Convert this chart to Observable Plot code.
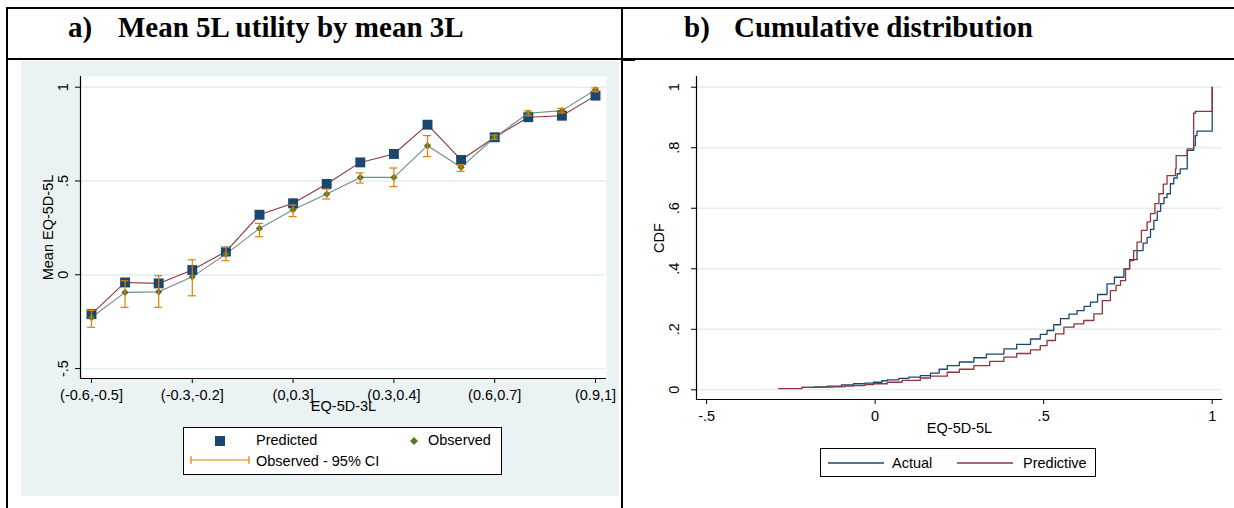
<!DOCTYPE html>
<html><head><meta charset="utf-8">
<script src="https://cdn.jsdelivr.net/npm/d3@7"></script>
<script src="https://cdn.jsdelivr.net/npm/@observablehq/plot@0.6"></script>
<style>
body{margin:0;width:1234px;height:508px;position:relative;overflow:hidden;background:#fff;font-family:"Liberation Sans",Arial,sans-serif;}
.line{position:absolute;background:#000;}
.title{position:absolute;font-family:"Liberation Serif","Times New Roman",serif;font-weight:bold;font-size:29px;line-height:29px;white-space:nowrap;color:#000;}
.chart{position:absolute;}
.legend{position:absolute;background:#fff;border:1px solid #000;box-sizing:border-box;}
.lt{position:absolute;font-size:14.5px;line-height:16px;white-space:nowrap;color:#000;}
.sw{position:absolute;}
</style></head><body>
<div class="line" style="left:6px;top:7px;width:1228px;height:2px"></div>
<div class="line" style="left:6px;top:7px;width:2px;height:501px"></div>
<div class="line" style="left:621px;top:7px;width:2px;height:501px"></div>
<div class="line" style="left:6px;top:58px;width:1228px;height:2px"></div>
<div class="line" style="left:623px;top:60px;width:12px;height:1px"></div>
<div class="title" style="left:68px;top:13px">a)</div>
<div class="title" style="left:118px;top:13px">Mean 5L utility by mean 3L</div>
<div class="title" style="left:684px;top:13px">b)</div>
<div class="title" style="left:734px;top:13px">Cumulative distribution</div>
<div id="a" class="chart" style="left:21px;top:61px"></div>
<div id="b" class="chart" style="left:630px;top:61px"></div>

<div class="legend" style="left:183px;top:427px;width:319px;height:48px">
  <svg class="sw" style="left:30px;top:7px" width="12" height="12"><rect x="1" y="1" width="10" height="10" fill="#1a476f"/></svg>
  <div class="lt" style="left:72px;top:4px">Predicted</div>
  <svg class="sw" style="left:225px;top:8px" width="10" height="10"><path d="M5,1L9,5L5,9L1,5Z" fill="#55752f"/></svg>
  <div class="lt" style="left:244px;top:4px">Observed</div>
  <svg class="sw" style="left:6px;top:27px" width="60" height="10"><path d="M1,5H59M1,1V9M59,1V9" stroke="#e37e00" stroke-width="1.2" fill="none"/></svg>
  <div class="lt" style="left:72px;top:25px">Observed - 95% CI</div>
</div>

<div class="legend" style="left:820px;top:448px;width:276px;height:29px">
  <svg class="sw" style="left:6px;top:9px" width="58" height="10"><path d="M1,5H57" stroke="#1a476f" stroke-width="1.3"/></svg>
  <div class="lt" style="left:71px;top:6px">Actual</div>
  <svg class="sw" style="left:135px;top:9px" width="58" height="10"><path d="M1,5H57" stroke="#90353b" stroke-width="1.3"/></svg>
  <div class="lt" style="left:202px;top:6px">Predictive</div>
</div>

<script>
// ---------- Panel a data ----------
const binIndex = [0,1,2,3,4,5,6,7,8,9,10,11,12,13,14,15];
const predicted = [-0.21,-0.041,-0.046,0.025,0.124,0.32,0.381,0.484,0.599,0.644,0.80,0.612,0.733,0.84,0.848,0.955];
const observed  = [-0.228,-0.094,-0.091,-0.011,0.11,0.247,0.347,0.43,0.519,0.519,0.688,0.573,0.733,0.861,0.875,0.986];
const ciLow     = [-0.28,-0.174,-0.174,-0.112,0.075,0.203,0.31,0.404,0.489,0.47,0.63,0.551,0.722,0.848,0.863,0.976];
const ciHigh    = [-0.19,-0.032,-0.005,0.08,0.146,0.274,0.372,0.457,0.543,0.569,0.742,0.587,0.744,0.874,0.887,0.996];
const xTickIdxA = [0,3,6,9,12,15];
const xTickLabelsA = ["(-0.6,-0.5]","(-0.3,-0.2]","(0,0.3]","(0.3,0.4]","(0.6,0.7]","(0.9,1]"];
const yTicksA = [-0.5,0,0.5,1];
const yTickLabelsA = ["-.5","0",".5","1"];

// ---------- Panel b data ----------
const actualX = [-0.217,-0.18,-0.142,-0.10,-0.064,-0.03,-0.005,0.02,0.036,0.07,0.10,0.134,0.164,0.19,0.214,0.25,0.293,0.33,0.382,0.42,0.461,0.49,0.51,0.53,0.55,0.575,0.599,0.62,0.639,0.66,0.688,0.71,0.738,0.755,0.777,0.795,0.807,0.817,0.827,0.837,0.847,0.857,0.866,0.876,0.886,0.896,0.905,0.926,0.945,0.95,0.955,1.0];
const actualY = [0.008,0.010,0.012,0.016,0.020,0.022,0.025,0.030,0.033,0.038,0.042,0.047,0.055,0.068,0.080,0.092,0.106,0.118,0.135,0.150,0.168,0.183,0.196,0.215,0.235,0.250,0.262,0.276,0.290,0.315,0.350,0.372,0.400,0.430,0.460,0.485,0.504,0.530,0.560,0.590,0.615,0.635,0.648,0.681,0.700,0.714,0.730,0.791,0.807,0.840,0.855,1.0];
const predX = [-0.286,-0.217,-0.17,-0.124,-0.09,-0.064,-0.03,-0.005,0.036,0.08,0.134,0.164,0.214,0.25,0.293,0.34,0.382,0.42,0.461,0.49,0.51,0.535,0.56,0.59,0.619,0.649,0.674,0.698,0.715,0.728,0.743,0.755,0.767,0.777,0.79,0.807,0.817,0.83,0.842,0.855,0.866,0.891,0.893,0.926,0.945,0.95,1.0];
const predY = [0.004,0.008,0.009,0.010,0.012,0.014,0.017,0.020,0.025,0.031,0.039,0.045,0.058,0.068,0.080,0.094,0.108,0.120,0.132,0.146,0.163,0.185,0.207,0.218,0.229,0.251,0.295,0.328,0.345,0.361,0.400,0.427,0.460,0.488,0.527,0.555,0.582,0.615,0.648,0.680,0.708,0.730,0.774,0.796,0.914,0.920,1.0];
const xTicksB = [-0.5,0,0.5,1];
const xTickLabelsB = ["-.5","0",".5","1"];
const yTicksB = [0,0.2,0.4,0.6,0.8,1];
const yTickLabelsB = ["0",".2",".4",".6",".8","1"];

const FONT = '"Liberation Sans", Arial, sans-serif';
const NAVY="#1a476f", MAROON="#90353b", FOREST="#55752f", ORANGE="#e37e00", TEAL="#6e8e84";
const GRID="#e4edf0", BG="#eaf2f3";

const rowsA = binIndex.map((i,k)=>({i, p:predicted[k], o:observed[k], lo:ciLow[k], hi:ciHigh[k]}));
const xDomA=[-0.327,15.327], yDomA=[-0.553,1.057];
const capHalf = 0.12;

const plotA = Plot.plot({
  width:598, height:435,
  marginLeft:59, marginRight:13, marginTop:15, marginBottom:118,
  style:{background:BG, fontFamily:FONT, fontSize:"14.5px", color:"#000", overflow:"visible"},
  x:{domain:xDomA}, y:{domain:yDomA},
  marks:[
    Plot.frame({fill:"white", stroke:null}),
    Plot.ruleY(yTicksA, {stroke:GRID, strokeWidth:1.5}),
    Plot.ruleX([xDomA[0]], {stroke:"#000", strokeWidth:1.2}),
    Plot.ruleY([yDomA[0]], {stroke:"#000", strokeWidth:1.2}),
    Plot.axisY({ticks:yTicksA, tickSize:5, tickFormat:()=>"", label:null, stroke:"#000"}),
    Plot.text(yTicksA, {y:d=>d, text:(d,k)=>yTickLabelsA[k], frameAnchor:"left", textAnchor:"middle", dx:-17, rotate:-90, fontSize:14.5}),
    Plot.text(["Mean EQ-5D-5L"], {frameAnchor:"left", textAnchor:"middle", dx:-32, rotate:-90, fontSize:14.5}),
    Plot.axisX({ticks:xTickIdxA, tickSize:5, tickPadding:6, tickFormat:(d)=>xTickLabelsA[xTickIdxA.indexOf(d)], label:null, stroke:"#000", fontSize:14.5}),
    Plot.text(["EQ-5D-3L"], {frameAnchor:"bottom", dy:32, fontSize:14.5}),
    Plot.line(rowsA, {x:"i", y:"p", stroke:MAROON, strokeWidth:1.1}),
    Plot.line(rowsA, {x:"i", y:"o", stroke:TEAL, strokeWidth:1.1}),
    Plot.dot(rowsA, {x:"i", y:"p", symbol:"square", r:5.6, fill:NAVY, stroke:null}),
    Plot.dot(rowsA, {x:"i", y:"o", symbol:"diamond2", r:3.3, fill:FOREST, stroke:null}),
    Plot.ruleX(rowsA, {x:"i", y1:"lo", y2:"hi", stroke:ORANGE, strokeWidth:1.2}),
    Plot.ruleY(rowsA, {y:"lo", x1:d=>d.i-capHalf, x2:d=>d.i+capHalf, stroke:ORANGE, strokeWidth:1.2}),
    Plot.ruleY(rowsA, {y:"hi", x1:d=>d.i-capHalf, x2:d=>d.i+capHalf, stroke:ORANGE, strokeWidth:1.2})
  ]
});
document.getElementById("a").appendChild(plotA);

const actual = actualX.map((x,k)=>({x, y:actualY[k]}));
const pred = predX.map((x,k)=>({x, y:predY[k]}));
const xDomB=[-0.530,1.0306], yDomB=[-0.032,1.0354];

const plotB = Plot.plot({
  width:604, height:435,
  marginLeft:66, marginRight:12, marginTop:15, marginBottom:97,
  style:{background:"white", fontFamily:FONT, fontSize:"14.5px", color:"#000", overflow:"visible"},
  x:{domain:xDomB}, y:{domain:yDomB},
  marks:[
    Plot.ruleY(yTicksB, {stroke:GRID, strokeWidth:1.5}),
    Plot.ruleX([xDomB[0]], {stroke:"#000", strokeWidth:1.2}),
    Plot.ruleY([yDomB[0]], {stroke:"#000", strokeWidth:1.2}),
    Plot.axisY({ticks:yTicksB, tickSize:5, tickFormat:()=>"", label:null, stroke:"#000"}),
    Plot.text(yTicksB, {y:d=>d, text:(d,k)=>yTickLabelsB[k], frameAnchor:"left", textAnchor:"middle", dx:-22, rotate:-90, fontSize:14.5}),
    Plot.text(["CDF"], {frameAnchor:"left", textAnchor:"middle", dx:-37, rotate:-90, fontSize:14.5}),
    Plot.axisX({ticks:xTicksB, tickSize:5, tickPadding:6, tickFormat:(d)=>xTickLabelsB[xTicksB.indexOf(d)], label:null, stroke:"#000", fontSize:14.5}),
    Plot.text(["EQ-5D-5L"], {frameAnchor:"bottom", dy:33, fontSize:14.5}),
    Plot.line(actual, {x:"x", y:"y", curve:"step-after", stroke:NAVY, strokeWidth:1.3}),
    Plot.line(pred, {x:"x", y:"y", curve:"step-after", stroke:MAROON, strokeWidth:1.3})
  ]
});
document.getElementById("b").appendChild(plotB);
</script>
</body></html>
